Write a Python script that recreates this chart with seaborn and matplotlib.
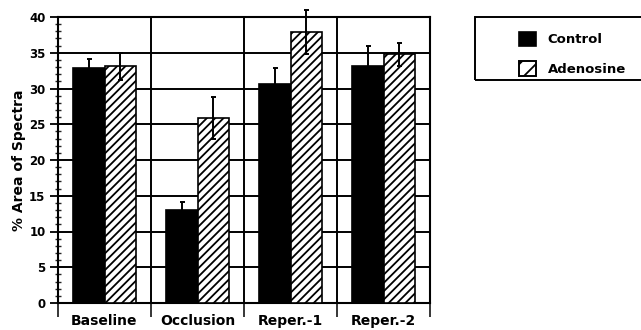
import matplotlib
matplotlib.use("Agg")
import matplotlib.pyplot as plt
from matplotlib.patches import Patch, Rectangle
from matplotlib.ticker import FixedLocator, MultipleLocator
import pandas as pd
import seaborn as sns

# Percent area of spectra, mean and error per phase
phases = ["Baseline", "Occlusion", "Reper.-1", "Reper.-2"]
groups = ["Control", "Adenosine"]
control_mean = [32.8, 13.0, 30.6, 33.1]
control_err = [1.3, 1.1, 2.3, 2.8]
adenosine_mean = [33.1, 25.9, 37.9, 34.8]
adenosine_err = [1.9, 2.9, 3.1, 1.6]

sns.set_theme(style="white")
plt.rcParams["font.family"] = ["DejaVu Sans"]
plt.rcParams["font.weight"] = "bold"
plt.rcParams["axes.labelweight"] = "bold"
plt.rcParams["text.color"] = "black"
plt.rcParams["axes.labelcolor"] = "black"
plt.rcParams["hatch.linewidth"] = 1.3
plt.rcParams["hatch.color"] = "black"

df = pd.DataFrame({
    "phase": phases * 2,
    "group": ["Control"] * len(phases) + ["Adenosine"] * len(phases),
    "value": control_mean + adenosine_mean,
})

fig = plt.figure(figsize=(6.41, 3.30), dpi=100)
ax = fig.add_axes([58 / 641, 27 / 330, 372 / 641, 286 / 330])

sns.barplot(data=df, x="phase", y="value", hue="group", order=phases,
            hue_order=groups, palette=["black", "white"], saturation=1,
            width=0.68, edgecolor="black", linewidth=1.2, errorbar=None,
            legend=False, ax=ax, zorder=3)

# hatch the adenosine bars
for bar in ax.containers[1]:
    bar.set_hatch("////")

# error bars on top of each bar
for cont, errs in zip(ax.containers, [control_err, adenosine_err]):
    xs = [b.get_x() + b.get_width() / 2 for b in cont]
    hs = [b.get_height() for b in cont]
    eb = ax.errorbar(xs, hs, yerr=errs, fmt="none", ecolor="black",
                     elinewidth=1.4, capsize=1.8, capthick=1.4, zorder=4)
    for child in eb.get_children():
        child.set_clip_on(False)

ax.set_xlim(-0.5, len(phases) - 0.5)
ax.set_ylim(0, 40)

# y axis: majors every 5, minors every 1
ax.yaxis.set_major_locator(MultipleLocator(5))
ax.yaxis.set_minor_locator(MultipleLocator(1))
ax.tick_params(axis="y", which="major", direction="out", length=6, width=1.3,
               pad=3, labelsize=8.5, colors="black", left=True)
ax.tick_params(axis="y", which="minor", direction="inout", length=5, width=1.0,
               left=True)

# x axis: ticks on group boundaries, labels at group centres
ax.xaxis.set_major_locator(FixedLocator([i - 0.5 for i in range(len(phases) + 1)]))
ax.xaxis.set_minor_locator(FixedLocator(list(range(len(phases)))))
ax.set_xticklabels([""] * (len(phases) + 1))
ax.set_xticklabels(phases, minor=True)
ax.tick_params(axis="x", which="major", direction="out", length=10, width=1.3,
               bottom=True)
ax.tick_params(axis="x", which="minor", length=0, pad=8, labelsize=10,
               colors="black")

ax.set_axisbelow(True)
ax.grid(True, which="major", color="black", linewidth=1.4)

for sp in ax.spines.values():
    sp.set_color("black")
    sp.set_linewidth(1.5)
    sp.set_visible(True)

ax.set_xlabel("")
ax.set_ylabel("% Area of Spectra", fontsize=10, fontweight="bold",
              color="black", labelpad=2.5)

# legend at the right of the plot
handles = [
    Patch(facecolor="black", edgecolor="black", linewidth=1.2),
    Patch(facecolor="white", edgecolor="black", linewidth=1.4, hatch="//"),
]
leg = fig.legend(handles, groups, loc="upper left",
                 bbox_to_anchor=(512 / 641, 1 - 25 / 330), frameon=False,
                 borderpad=0, fontsize=9.5, handlelength=1.3,
                 handleheight=1.35, handletextpad=0.9, labelspacing=1.1)
for txt in leg.get_texts():
    txt.set_color("black")
fig.add_artist(Rectangle((475 / 641, 1 - 80 / 330), 200 / 641, 63 / 330,
                         transform=fig.transFigure, fill=False,
                         edgecolor="black", linewidth=1.4, clip_on=False))

fig.savefig("out.png", dpi=100, facecolor="white")
